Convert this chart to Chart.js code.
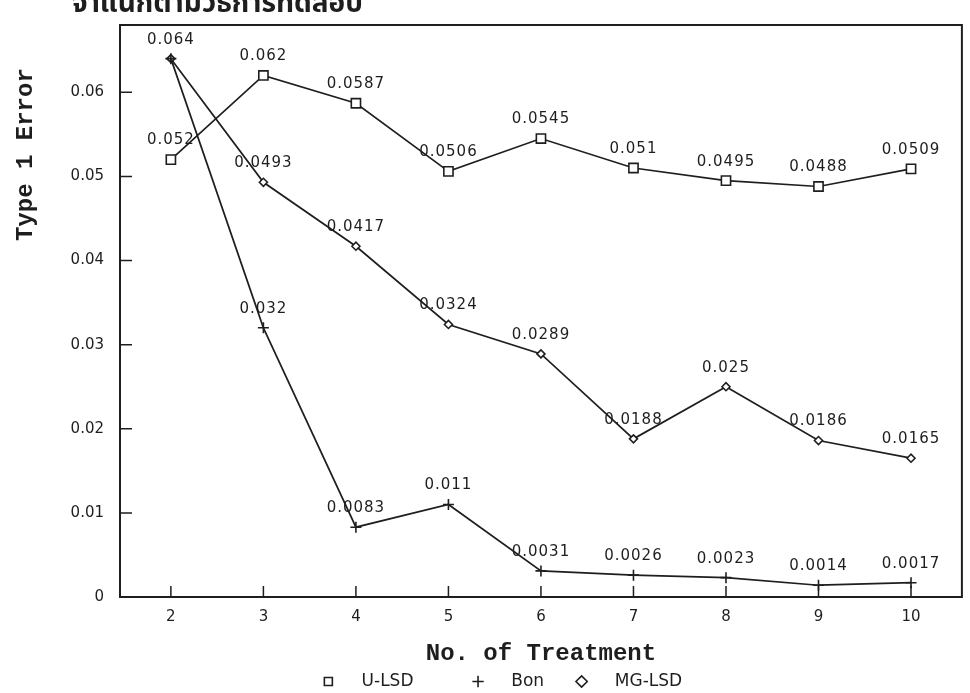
<!DOCTYPE html>
<html>
<head>
<meta charset="utf-8">
<script src="https://cdn.jsdelivr.net/npm/chart.js@4.4.1/dist/chart.umd.min.js"></script>
<style>
  html, body { margin: 0; padding: 0; background: #fff; }
  #wrap { width: 970px; height: 693px; position: relative; }
</style>
</head>
<body>
<div id="wrap"><canvas id="chart"></canvas></div>
<script>
// values
const treatments = [2, 3, 4, 5, 6, 7, 8, 9, 10];
const uLsd  = [0.052, 0.062, 0.0587, 0.0506, 0.0545, 0.051, 0.0495, 0.0488, 0.0509];
const bon   = [0.064, 0.032, 0.0083, 0.011, 0.0031, 0.0026, 0.0023, 0.0014, 0.0017];
const mgLsd = [0.064, 0.0493, 0.0417, 0.0324, 0.0289, 0.0188, 0.025, 0.0186, 0.0165];
const yTicks = [0, 0.01, 0.02, 0.03, 0.04, 0.05, 0.06];
const header = 'จำแนกตามวิธีการทดสอบ';

const ink = '#1e1e1e';
const toPoints = arr => treatments.map((t, i) => ({ x: t, y: arr[i] }));

// box round the plot + ticks pointing inward
const frame = {
  id: 'frame',
  beforeDatasetsDraw(chart) {
    const { ctx, chartArea: a, scales: { x, y } } = chart;
    ctx.save();
    ctx.strokeStyle = ink;
    ctx.lineWidth = 2;
    ctx.strokeRect(a.left, a.top, a.right - a.left, a.bottom - a.top);
    ctx.lineWidth = 1.5;
    ctx.beginPath();
    x.ticks.forEach(t => {
      const px = x.getPixelForValue(t.value);
      ctx.moveTo(px, a.bottom);
      ctx.lineTo(px, a.bottom - 11);
    });
    y.ticks.forEach(t => {
      if (t.value === 0) return;
      const py = y.getPixelForValue(t.value);
      ctx.moveTo(a.left, py);
      ctx.lineTo(a.left + 12, py);
    });
    ctx.stroke();
    ctx.restore();
  }
};

// value printed above every point (shared points printed once)
const valueLabels = {
  id: 'valueLabels',
  afterDatasetsDraw(chart) {
    const { ctx } = chart;
    const seen = new Set();
    ctx.save();
    ctx.font = '15px "DejaVu Sans"';
    ctx.letterSpacing = '1px';
    ctx.fillStyle = ink;
    ctx.textAlign = 'center';
    ctx.textBaseline = 'middle';
    chart.data.datasets.forEach((ds, i) => {
      chart.getDatasetMeta(i).data.forEach((pt, j) => {
        const txt = String(ds.data[j].y);
        const key = j + ':' + txt;
        if (seen.has(key)) return;
        seen.add(key);
        ctx.fillText(txt, pt.x, pt.y - 19);
      });
    });
    ctx.restore();
  }
};

// Thai caption, cut off at the top like in the scan
const caption = {
  id: 'caption',
  afterDraw(chart) {
    const { ctx } = chart;
    ctx.save();
    ctx.font = 'bold 28px "Noto Sans Thai", "Noto Sans", sans-serif';
    ctx.fillStyle = ink;
    ctx.textBaseline = 'alphabetic';
    ctx.fillText(header, 72, 12);
    ctx.restore();
  }
};

const ctx = document.getElementById('chart');
const legendGap = [10, 5, 0]; // trailing spaces after each legend entry

new Chart(ctx, {
  type: 'line',
  data: {
    datasets: [
      {
        label: 'U-LSD',
        data: toPoints(uLsd),
        borderColor: ink,
        backgroundColor: '#fff',
        borderWidth: 1.7,
        pointStyle: 'rect',
        pointRadius: 6.5,
        pointBorderWidth: 1.6,
      },
      {
        label: 'Bon',
        data: toPoints(bon),
        borderColor: ink,
        backgroundColor: '#fff',
        borderWidth: 1.7,
        pointStyle: 'cross',
        pointRadius: 5.5,
        pointBorderWidth: 1.6,
      },
      {
        label: 'MG-LSD',
        data: toPoints(mgLsd),
        borderColor: ink,
        backgroundColor: '#fff',
        borderWidth: 1.7,
        pointStyle: 'rectRot',
        pointRadius: 4,
        pointBorderWidth: 1.6,
      },
    ],
  },
  options: {
    responsive: true,
    maintainAspectRatio: false,
    animation: false,
    layout: { padding: { top: 22, right: 2, left: 34, bottom: -7 } },
    plugins: {
      tooltip: { enabled: false },
      legend: {
        position: 'bottom',
        labels: {
          usePointStyle: true,
          boxHeight: 8,
          color: ink,
          padding: 2,
          font: { family: 'DejaVu Sans', size: 17 },
          generateLabels: chart => {
            const items = Chart.defaults.plugins.legend.labels.generateLabels(chart);
            items.forEach((it, i) => {
              it.text = '   ' + it.text + ' '.repeat(legendGap[i]);
            });
            return items;
          },
        },
      },
    },
    scales: {
      x: {
        type: 'linear',
        min: 1.45,
        max: 10.55,
        afterBuildTicks: s => { s.ticks = treatments.map(v => ({ value: v })); },
        afterFit: s => { s.height = 700 - 597 - s.chart.legend.height; },
        grid: { display: false, drawTicks: false },
        border: { display: false },
        ticks: {
          color: ink,
          padding: 11,
          font: { family: 'DejaVu Sans', size: 15 },
        },
        title: {
          display: true,
          text: 'No. of Treatment',
          color: ink,
          padding: { top: 0, bottom: 3 },
          font: { family: 'Liberation Mono', size: 24, weight: 'bold' },
        },
      },
      y: {
        min: 0,
        max: 0.068,
        afterBuildTicks: s => { s.ticks = yTicks.map(v => ({ value: v })); },
        afterFit: s => { s.width = 86; },
        grid: { display: false, drawTicks: false },
        border: { display: false },
        ticks: {
          color: ink,
          padding: 16,
          font: { family: 'DejaVu Sans', size: 15 },
          callback: v => (v === 0 ? '0' : v.toFixed(2)),
        },
        title: {
          display: true,
          text: 'Type 1 Error   ',
          align: 'end',
          color: ink,
          padding: { top: -22, bottom: 0 },
          font: { family: 'Liberation Mono', size: 24, weight: 'bold' },
        },
      },
    },
  },
  plugins: [frame, valueLabels, caption],
});
</script>
</body>
</html>
